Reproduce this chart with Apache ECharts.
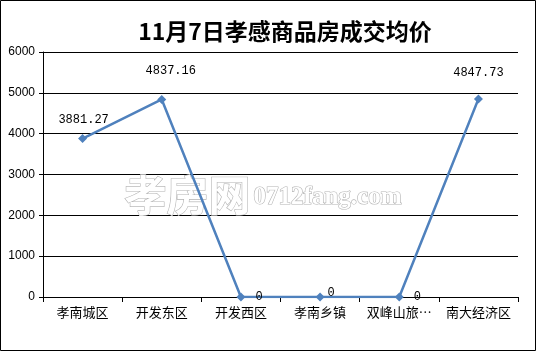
<!DOCTYPE html>
<html><head><meta charset="utf-8">
<script src="https://cdn.jsdelivr.net/npm/echarts@6/dist/echarts.min.js"></script>
<style>html,body{margin:0;padding:0;background:#fff}#c{width:537px;height:352px}</style>
</head><body><div id="c"></div>
<script>
var titleText = '11月7日孝感商品房成交均价';
var categories = ['孝南城区', '开发东区', '开发西区', '孝南乡镇', '双峰山旅…', '南大经济区'];
var values = [3881.27, 4837.16, 0, 0, 0, 4847.73];
var valueLabels = ['3881.27', '4837.16', '0', '0', '0', '4847.73'];
var yTicks = [0, 1000, 2000, 3000, 4000, 5000, 6000];

var labelPlacement = [
  {position: 'top', distance: 8, offset: [1, 0]},
  {position: 'top', distance: 18, offset: [9, 0]},
  {position: 'right', distance: 10, offset: [0, 0]},
  {position: 'right', distance: 3, offset: [0, -4]},
  {position: 'right', distance: 10, offset: [0, 0]},
  {position: 'top', distance: 16, offset: [0, 0]}
];
var seriesData = values.map(function (v, i) {
  return {
    value: v,
    label: Object.assign({show: true, formatter: valueLabels[i]}, labelPlacement[i])
  };
});

var chart = echarts.init(document.getElementById('c'), null, {renderer: 'canvas'});
chart.setOption({
  animation: false,
  backgroundColor: '#fff',
  title: {
    text: titleText, left: 280, top: 15, textAlign: 'center',
    textStyle: {fontFamily: 'Noto Sans CJK SC', fontWeight: 'bold', fontSize: 23, color: '#000'}
  },
  graphic: [
    {type: 'rect', z: 100, silent: true, shape: {x: 0.5, y: 0.5, width: 535, height: 350},
      style: {fill: 'none', stroke: '#000', lineWidth: 1}},
    {type: 'text', z: 1, silent: true, left: 124, top: 173,
      style: {text: '孝房网', font: 'bold 42px "Noto Sans CJK SC"', fill: '#fff', stroke: '#b4b4b4', lineWidth: 1.2}},
    {type: 'text', z: 1, silent: true, left: 253, top: 184,
      style: {text: '0712fang.com', font: 'bold 25px "Liberation Serif"', fill: '#fff', stroke: '#b4b4b4', lineWidth: 1.2}}
  ],
  grid: {left: 43, right: 19, top: 52, bottom: 55, containLabel: false},
  xAxis: {
    type: 'category', data: categories, boundaryGap: true,
    axisLine: {lineStyle: {color: '#000', width: 1}},
    axisTick: {show: true, length: 5, lineStyle: {color: '#000'}},
    axisLabel: {color: '#000', fontSize: 13, fontFamily: 'Noto Sans CJK SC', margin: 9, interval: 0}
  },
  yAxis: {
    type: 'value', min: yTicks[0], max: yTicks[yTicks.length - 1], interval: 1000,
    axisLine: {show: true, lineStyle: {color: '#000', width: 1}},
    axisTick: {show: true, length: 4, lineStyle: {color: '#000'}},
    splitLine: {show: true, lineStyle: {color: '#000', width: 1}},
    axisLabel: {color: '#000', fontSize: 12, fontFamily: 'Liberation Sans', margin: 8,
      formatter: function (v) { return String(v); }}
  },
  series: [{
    type: 'line', data: seriesData, z: 5,
    lineStyle: {color: '#4f81bd', width: 2.5},
    itemStyle: {color: '#4f81bd'},
    symbol: 'diamond', symbolSize: 9, showAllSymbol: true,
    label: {color: '#000', fontSize: 12, fontFamily: 'Liberation Mono'}
  }]
});
</script></body></html>
